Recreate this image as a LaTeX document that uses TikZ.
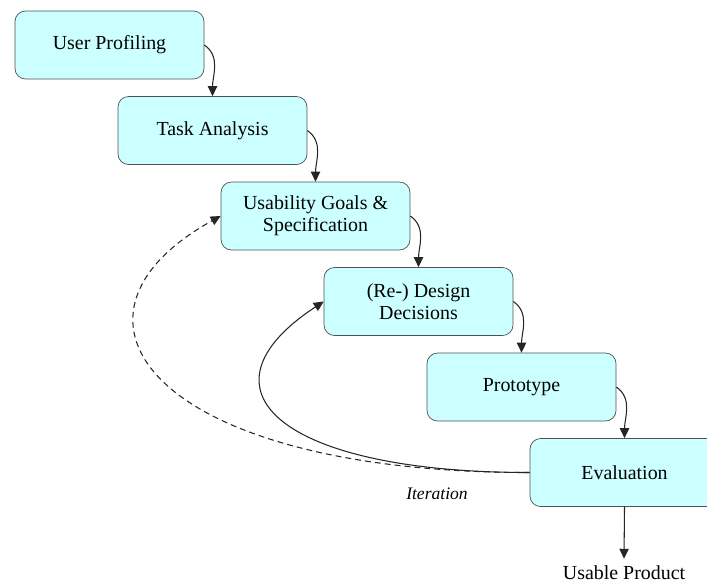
\documentclass[tikz,border=0pt]{standalone}
\usepackage{fontspec}
\setmainfont{Liberation Serif}
\usetikzlibrary{positioning, arrows.meta}
\definecolor{phasefill}{HTML}{CCFFFF}
\definecolor{phaseline}{HTML}{505050}

\begin{document}
\begin{tikzpicture}[x=0.03cm, y=-0.03cm, node distance=2.565cm and 3.09cm, on grid,
        >={Triangle[length=8.5pt, width=8pt]}]
    \tikzstyle{phase}=[rectangle, rounded corners=9pt, draw=phaseline, fill=phasefill, line width=0.6pt,
        minimum width=5.67cm, minimum height=2.04cm, align=center,
        font=\fontsize{17}{19}\selectfont]
    \tikzstyle{phase out}=[font=\fontsize{17}{19}\selectfont, inner sep=1pt]
    \tikzstyle{flow}=[->, line width=0.9pt, black!85]

    \useasboundingbox (0,0) rectangle (707,585);

    \node[phase] (up) at (109.5,45) {User Profiling};
    \node[phase, below right=of up] (ta) {Task Analysis};
    \node[phase, below right=of ta] (ug) {Usability Goals \&\\Specification};
    \node[phase, below right=of ug] (dd) {(Re-) Design\\Decisions};
    \node[phase, below right=of dd] (pt) {Prototype};
    \node[phase, below right=of pt] (ev) {Evaluation};
    \node[phase out] (prod) at (624,573) {Usable Product};
    \node[phase out, font=\fontsize{15}{17}\selectfont\itshape] (iter) at (437,494) {Iteration};

    \path[flow] (up.east) edge[out=-35, in=90] (ta.north);
    \path[flow] (ta.east) edge[out=-35, in=90] (ug.north);
    \path[flow] (ug.east) edge[out=-35, in=90] (dd.north);
    \path[flow] (dd.east) edge[out=-35, in=90] (pt.north);
    \path[flow] (pt.east) edge[out=-35, in=90] (ev.north);
    \draw[flow] (ev.south) -- ([yshift=5pt]prod.north);

    % iteration loops back
    \draw[flow] (ev.west) .. controls +(-250,0) and +(-134,88) .. (dd.west);
    \draw[flow, dash pattern=on 5pt off 3.5pt] (ev.west) .. controls +(-380,0) and +(-181,100) .. (ug.west);
\end{tikzpicture}
\end{document}
